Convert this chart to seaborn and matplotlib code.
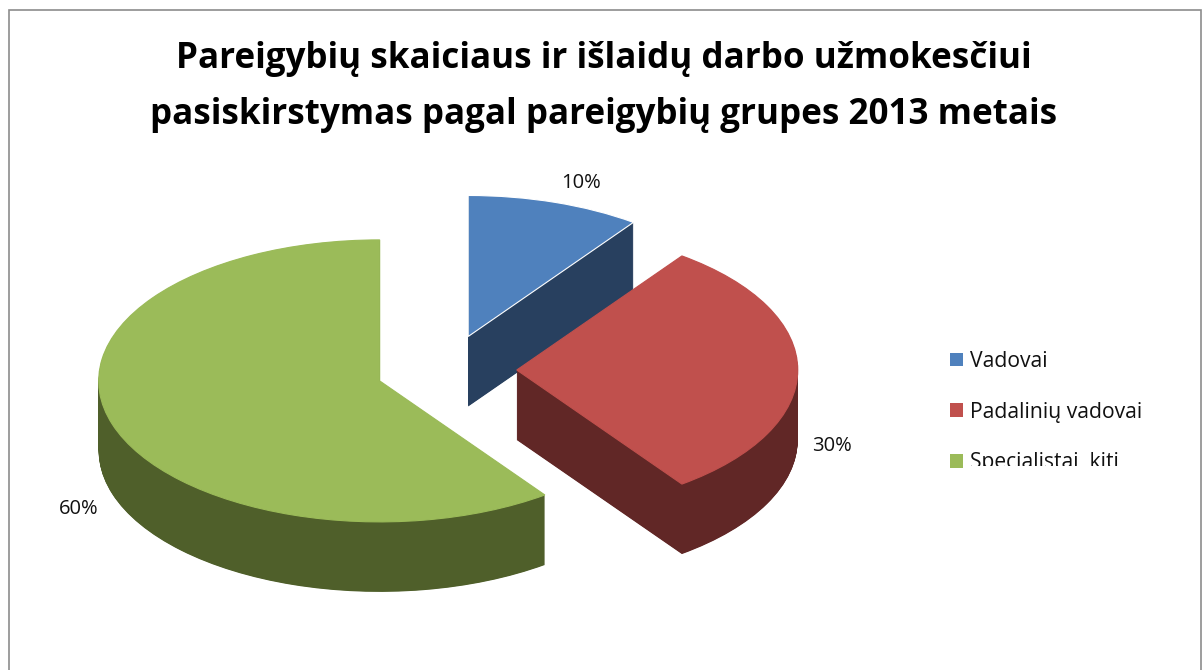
import numpy as np
import matplotlib
matplotlib.use("Agg")
import matplotlib.pyplot as plt
from matplotlib.patches import Rectangle
from matplotlib.transforms import Bbox
import seaborn as sns

title_lines = ["Pareigybių skaiciaus ir išlaidų darbo užmokesčiui",
               "pasiskirstymas pagal pareigybių grupes 2013 metais"]
categories = ["Vadovai", "Padalinių vadovai", "Specialistai, kiti"]
values = [10, 30, 60]
top_colors = ["#4F81BD", "#C0504D", "#9BBB59"]
side_colors = ["#28405F", "#612726", "#4F5F2A"]
top_edges = ["white", "#C0504D", "#9BBB59"]

sns.set_theme(style="white")
plt.rcParams["font.family"] = ["Open Sans", "DejaVu Sans"]

W, H = 1202, 670
fig = plt.figure(figsize=(W / 100, H / 100), dpi=100, facecolor="white")
ax = fig.add_axes([0, 0, 1, 1])

# geometry of the tilted pie, in pixels
cx, cy, rx, ry, depth = 446.5, 370, 281, 141, 70
explode = [0.25] * len(values)
common = dict(explode=explode, startangle=90, counterclock=False, radius=1)

# extruded sides: stacked copies of the pie, drawn behind each top face
for d in np.arange(depth, 0, -0.5):
    wedges, _ = ax.pie(values, colors=side_colors, center=(0, -d / ry),
                       wedgeprops=dict(linewidth=0), **common)
    for i, w in enumerate(wedges):
        w.set_zorder(2 * i + 1)
tops, _ = ax.pie(values, colors=top_colors, center=(0, 0),
                 wedgeprops=dict(linewidth=0.8), **common)
for i, w in enumerate(tops):
    w.set_zorder(2 * i + 2)
    w.set_edgecolor(top_edges[i])

ax.set_aspect("auto")
ax.set_xlim(-cx / rx, (W - cx) / rx)
ax.set_ylim((cy - H) / ry, cy / ry)
ax.axis("off")

def px(x, y):
    return x / W, 1 - y / H

# chart border
fig.add_artist(Rectangle(px(8.5, 700), (1200.5 - 8.5) / W, (700 - 10.5) / H,
                         transform=fig.transFigure, fill=False,
                         edgecolor="#8C8C8C", linewidth=1.2, clip_on=False))

# title
for line, y in zip(title_lines, (59, 115)):
    fig.text(*px(604, y), line, ha="center", va="center",
             fontsize=25.2, fontweight="bold", color="black")

# data labels
for v, (x, y) in zip(values, [(581, 183), (832, 446), (79, 509)]):
    fig.text(*px(x, y), f"{v}%", ha="center", va="center", fontsize=14.5, color="#111111")

# legend
handles = [Rectangle((0, 0), 1, 1, facecolor=c, edgecolor="none") for c in top_colors]
leg = ax.legend(handles, categories, loc="upper left",
                bbox_to_anchor=px(950, 351), bbox_transform=fig.transFigure,
                frameon=False, fontsize=15.2, handlelength=0.62, handleheight=0.62,
                handletextpad=0.33, labelspacing=1.4, borderpad=0, borderaxespad=0,
                labelcolor="#111111")
fig.canvas.draw()
t = leg.get_texts()[2]
t.set_clip_on(True)
t.set_clip_box(Bbox.from_extents(900, H - 466, W, H - 440))

fig.savefig("out.png", dpi=100)
